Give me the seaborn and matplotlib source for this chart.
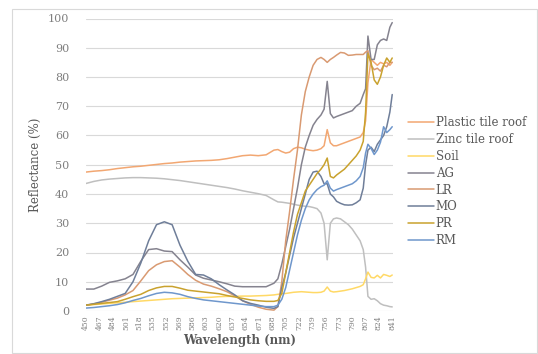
import matplotlib
matplotlib.use("Agg")
import matplotlib.pyplot as plt
from matplotlib.lines import Line2D
from matplotlib.patches import Rectangle
import pandas as pd
import seaborn as sns

# Sampled wavelengths (nm)
wavelength = [450, 460, 470, 480, 490, 500, 510, 520, 530, 540, 550, 560, 570, 580, 590,
              600, 610, 620, 630, 640, 650, 660, 670, 680, 690, 695, 700, 705, 710, 715,
              720, 725, 730, 735, 740, 745, 750, 754, 758, 762, 766, 770, 775, 780, 785,
              790, 795, 800, 804, 807, 810, 814, 818, 822, 826, 830, 834, 838, 841]

# Reflectance (%) per surface type
plastic_tile_roof = [47.5, 47.8, 48.0, 48.3, 48.7, 49.0, 49.3, 49.5, 49.8, 50.1, 50.4, 50.6, 50.9, 51.1, 51.3,
                     51.4, 51.5, 51.7, 52.1, 52.6, 53.1, 53.3, 53.1, 53.4, 55.0, 55.2, 54.5, 54.0, 54.3, 55.5,
                     56.0, 55.8, 55.3, 55.0, 54.8, 55.0, 55.5, 56.5, 62.0, 57.5, 56.5, 56.5, 57.0, 57.5, 58.0,
                     58.5, 59.0, 59.5, 61.0, 65.0, 78.0, 86.0, 85.0, 84.0, 85.0, 84.5, 85.0, 84.0, 85.0]
zinc_tile_roof = [43.6, 44.3, 44.8, 45.1, 45.3, 45.5, 45.6, 45.6, 45.5, 45.4, 45.2, 44.9, 44.6, 44.2, 43.8,
                  43.4, 43.0, 42.6, 42.2, 41.7, 41.1, 40.6, 40.1, 39.5, 38.0, 37.3, 37.2, 37.0, 36.8, 36.5,
                  36.2, 36.0, 35.8, 35.7, 35.4, 35.0, 33.5, 30.0, 17.5, 30.0, 31.5, 31.8, 31.5, 30.5, 29.5,
                  28.0, 26.0, 24.0, 21.0, 15.0, 5.0, 4.0, 4.2, 3.5, 2.5, 2.0, 1.8, 1.5, 1.4]
soil = [2.0, 2.2, 2.4, 2.6, 2.8, 3.0, 3.2, 3.4, 3.6, 3.8, 4.0, 4.2, 4.3, 4.4, 4.5,
        4.6, 4.7, 4.9, 5.0, 5.0, 5.1, 5.1, 5.2, 5.3, 5.5, 5.7, 5.9, 6.0, 6.2, 6.4,
        6.5, 6.6, 6.5, 6.4, 6.3, 6.3, 6.4, 6.8, 8.2, 6.8, 6.5, 6.6, 6.8, 7.0, 7.3,
        7.6, 8.0, 8.4, 9.0, 11.0, 13.3, 11.5, 11.3, 12.2, 11.3, 12.5, 12.2, 11.8, 12.3]
ag = [7.5, 7.5, 8.5, 9.8, 10.3, 11.0, 12.5, 17.0, 21.0, 21.3, 20.5, 20.3, 17.5, 15.0, 12.3,
      11.2, 10.6, 10.0, 9.3, 8.5, 8.3, 8.3, 8.3, 8.3, 9.5, 11.0, 16.0, 22.0, 28.0, 35.0,
      42.0, 50.0, 56.0, 60.0, 63.5, 65.5, 67.0, 69.0, 78.5, 67.5, 66.0, 66.5, 67.0, 67.5, 68.0,
      68.5, 70.0, 71.0, 74.0, 76.0, 94.0, 86.0, 86.0, 91.0, 92.5, 93.0, 92.5, 97.0, 98.6]
lr = [2.0, 2.4, 3.0, 3.7, 4.4, 5.5, 7.0, 10.3, 13.8, 15.8, 16.9, 17.2, 15.0, 12.5, 10.5,
      9.2, 8.5, 7.6, 6.6, 5.2, 3.5, 2.3, 1.3, 0.6, 0.3, 1.5, 10.0, 24.0, 34.0, 45.0,
      55.0, 67.0, 75.0, 80.0, 84.0, 86.0, 86.7, 86.0, 85.0, 86.0, 86.7, 87.5, 88.4, 88.2, 87.4,
      87.5, 87.7, 87.7, 87.7, 88.5, 89.0, 84.0, 82.5, 83.0, 82.0, 84.0, 83.5, 85.0, 85.0]
mo = [2.0, 2.5, 3.2, 4.0, 5.0, 6.0, 10.0, 16.4, 24.0, 29.5, 30.5, 29.5, 22.5, 17.0, 12.5,
      12.3, 11.0, 9.0, 7.2, 5.5, 3.5, 2.6, 2.0, 1.3, 0.9, 1.5, 8.0, 13.0, 19.0, 25.0,
      30.0, 35.0, 40.0, 45.0, 47.5, 47.8, 46.0, 43.5, 43.5, 40.0, 39.0, 37.5, 36.8, 36.3, 36.2,
      36.3, 37.0, 38.0, 42.0, 50.0, 55.0, 56.0, 54.5, 57.0, 58.5, 60.0, 63.0, 68.0, 74.0]
pr = [2.0, 2.3, 2.6, 2.9, 3.2, 4.0, 4.9, 5.7, 7.0, 7.9, 8.4, 8.4, 7.8, 7.1, 6.8,
      6.5, 6.2, 5.9, 5.3, 4.8, 4.3, 3.8, 3.5, 3.3, 3.3, 3.6, 6.0, 13.0, 20.0, 27.0,
      33.0, 37.0, 41.0, 43.0, 45.0, 47.0, 48.5, 50.0, 52.3, 46.0, 45.5, 46.5, 47.5, 48.5, 50.0,
      51.5, 53.0, 55.0, 58.0, 68.0, 88.0, 85.0, 79.0, 77.5, 80.0, 84.0, 86.5, 85.0, 86.5]
rm = [1.0, 1.2, 1.5, 1.8, 2.2, 2.8, 3.6, 4.3, 5.2, 6.0, 6.4, 6.2, 5.7, 4.9, 4.3,
      3.8, 3.5, 3.2, 2.9, 2.6, 2.3, 2.0, 1.7, 1.5, 1.5, 2.0, 4.0, 8.0, 14.0, 20.0,
      26.0, 31.0, 35.0, 38.0, 40.0, 41.5, 42.5, 43.0, 44.5, 42.0, 41.0, 41.5, 42.0, 42.5, 43.0,
      43.5, 44.5, 46.0, 49.0, 54.0, 57.0, 55.6, 53.5, 55.0, 57.7, 63.0, 61.0, 62.0, 63.0]

series_names = ["Plastic tile roof", "Zinc tile roof", "Soil", "AG", "LR", "MO", "PR", "RM"]
series_values = [plastic_tile_roof, zinc_tile_roof, soil, ag, lr, mo, pr, rm]
series_colors = ["#F2A772", "#BFBFBF", "#FFD966", "#85838F", "#D99A72", "#6F7E99", "#C9A22E", "#6F97CC"]
x_tick_values = list(range(450, 842, 17))
y_tick_values = list(range(0, 101, 10))

frames = [pd.DataFrame({"Wavelength": wavelength, "Reflectance": vals, "Material": name})
          for name, vals in zip(series_names, series_values)]
data = pd.concat(frames, ignore_index=True)
palette = dict(zip(series_names, series_colors))

sns.set_theme(style="white")
plt.rcParams["font.family"] = ["DejaVu Serif"]
text_grey = "#595959"

fig = plt.figure(figsize=(5.38, 3.54), dpi=100)
fig.patches.append(Rectangle((12 / 538, 1 / 354), 525 / 538, 344 / 354, transform=fig.transFigure,
                             fill=False, edgecolor="#D9D9D9", linewidth=0.8))
ax = fig.add_axes([86 / 538, 43 / 354, 307 / 538, 292.5 / 354])

sns.lineplot(data=data, x="Wavelength", y="Reflectance", hue="Material", hue_order=series_names,
             palette=palette, linewidth=1.1, sort=False, legend=False, ax=ax)

ax.set_xlim(450, 842)
ax.set_ylim(0, 100)
ax.set_yticks(y_tick_values)
ax.set_xticks(x_tick_values)
ax.set_xticklabels([str(v) for v in x_tick_values], rotation=90, fontsize=5.5, color="#7F7F7F")
ax.set_yticklabels([str(v) for v in y_tick_values], fontsize=8, color="#7F7F7F")
ax.tick_params(axis="y", length=0, pad=12)
ax.tick_params(axis="x", length=0, pad=3)
ax.yaxis.grid(True, color="#D9D9D9", linewidth=0.8)
ax.xaxis.grid(False)
for sp in ax.spines.values():
    sp.set_visible(False)

ax.set_xlabel("Wavelength (nm)", fontsize=8.5, color=text_grey, fontweight="bold", labelpad=3)
ax.set_ylabel("Reflectance (%)", fontsize=8.5, color=text_grey, labelpad=4)

handles = [Line2D([], [], color=c, linewidth=1.1) for c in series_colors]
fig.legend(handles, series_names, loc="upper left", bbox_to_anchor=(408 / 538, 1 - 116 / 354),
           frameon=False, fontsize=8.5, handlelength=2.2, handletextpad=0.15,
           labelspacing=0.33, borderpad=0, borderaxespad=0, labelcolor=text_grey)

fig.savefig("out.png", dpi=100, facecolor="white")
